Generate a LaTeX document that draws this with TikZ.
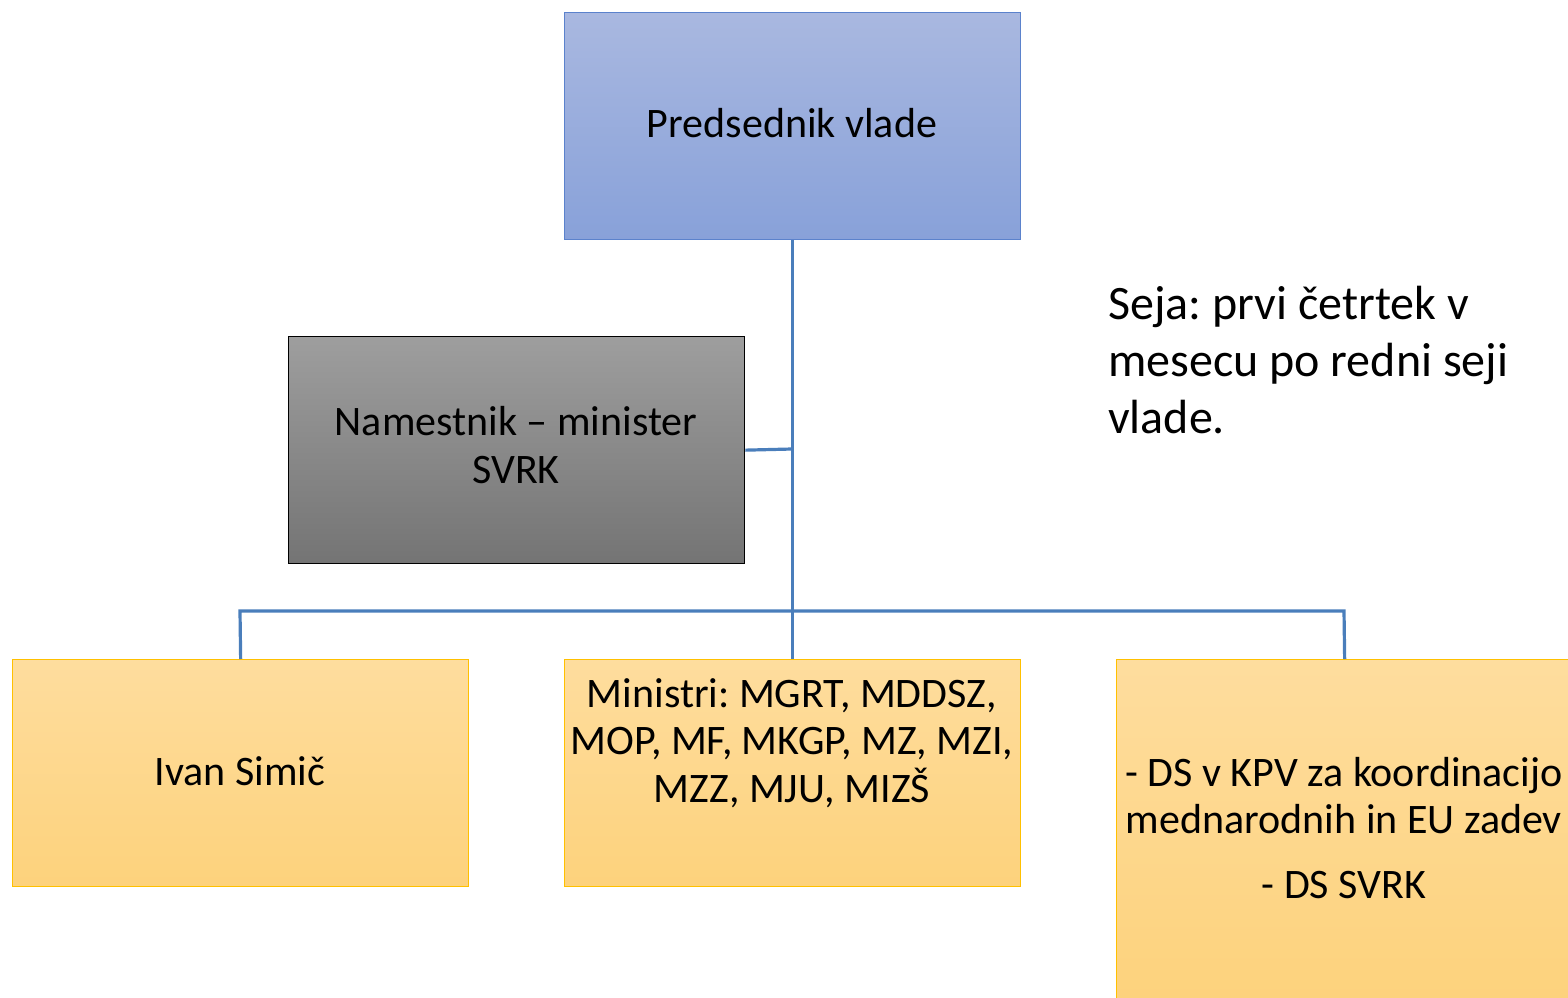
\documentclass[tikz,border=0pt]{standalone}
\usepackage{fontspec}
\setmainfont{Carlito}
\frenchspacing
\definecolor{bluetop}{HTML}{A9B8E0}
\definecolor{bluebot}{HTML}{88A1D9}
\definecolor{blueedge}{HTML}{5B82CC}
\definecolor{graytop}{HTML}{9E9E9E}
\definecolor{graybot}{HTML}{747474}
\definecolor{ortop}{HTML}{FEDD9E}
\definecolor{orbot}{HTML}{FDD27C}
\definecolor{oredge}{HTML}{FFC000}
\definecolor{conn}{HTML}{4A7EBB}
\tikzset{
  box/.style={minimum width=456pt, minimum height=227pt, anchor=north west, inner sep=0pt, line width=1.3pt},
  bluebox/.style={box, draw=blueedge, top color=bluetop, bottom color=bluebot},
  graybox/.style={box, draw=black, top color=graytop, bottom color=graybot},
  orbox/.style={box, draw=oredge, top color=ortop, bottom color=orbot},
  txt/.style={font=\fontsize{42}{47.5}\selectfont, align=center, inner sep=0pt, anchor=base},
  seja/.style={font=\fontsize{48}{57}\selectfont, align=left, inner sep=0pt, anchor=base west},
  link/.style={draw=conn, line width=3.2pt}
}
\begin{document}
\begin{tikzpicture}[x=1pt,y=-1pt]
\useasboundingbox (0,0) rectangle (1568,998);
\clip (0,0) rectangle (1568,998);
% boxes
\node[bluebox] (pv) at (564,12) {};
\node[graybox] (nm) at (288,336) {};
\node[orbox] (is) at (12,659) {};
\node[orbox] (mi) at (564,659) {};
\node[orbox, minimum height=345pt] (ds) at (1116,659) {};
% connectors
\coordinate (hl) at (240,611);
\coordinate (hr) at (1344,611);
\coordinate (nmj) at (792,449);
\draw[link] (pv.south) -- (mi.north);
\draw[link] (nm.east) -- (nmj);
\draw[link] (is.north) -- (hl) -- (hr) -- (ds.north);
% texts (anchor base = baseline of last line)
\node[txt] (tpv) at (792,137) {Predsednik vlade};
\node[txt] (tnm) at (516,483) {Namestnik – minister\\SVRK};
\node[txt] (tis) at (240,785) {Ivan Simič};
\node[txt] (tmi) at (792,802) {Ministri: MGRT, MDDSZ,\\MOP, MF, MKGP, MZ, MZI,\\MZZ, MJU, MIZŠ};
\node[txt] (tds) at (1344,898) {- DS v KPV za koordinacijo\\mednarodnih in EU zadev\\[17pt]- DS SVRK};
\node[seja] (tse) at (1108,433) {Seja: prvi četrtek v\\mesecu po redni seji\\vlade.};
\end{tikzpicture}
\end{document}
